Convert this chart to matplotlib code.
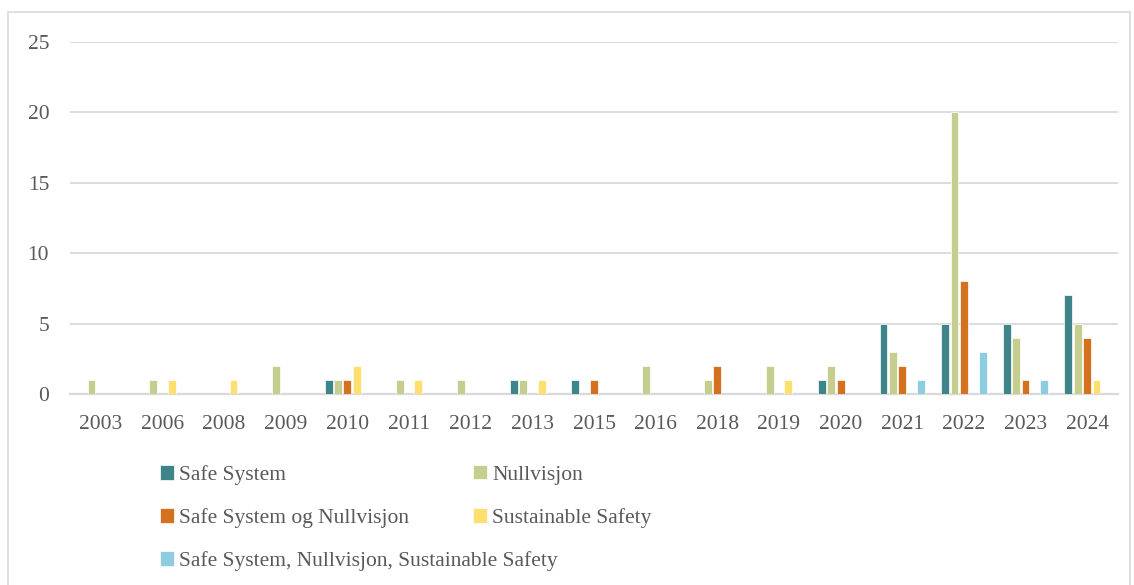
import numpy as np
from matplotlib import pyplot as plt
from matplotlib.patches import Rectangle

years = ["2003", "2006", "2008", "2009", "2010", "2011", "2012", "2013", "2015",
         "2016", "2018", "2019", "2020", "2021", "2022", "2023", "2024"]

safe_system = [0, 0, 0, 0, 1, 0, 0, 1, 1, 0, 0, 0, 1, 5, 5, 5, 7]
nullvisjon = [1, 1, 0, 2, 1, 1, 1, 1, 0, 2, 1, 2, 2, 3, 20, 4, 5]
ss_og_null = [0, 0, 0, 0, 1, 0, 0, 0, 1, 0, 2, 0, 1, 2, 8, 1, 4]
sustainable = [0, 1, 1, 0, 2, 1, 0, 1, 0, 0, 0, 1, 0, 0, 0, 0, 1]
all_three = [0, 0, 0, 0, 0, 0, 0, 0, 0, 0, 0, 0, 0, 1, 3, 1, 0]

series = [
    ("Safe System", safe_system, "#3F8489"),
    ("Nullvisjon", nullvisjon, "#C6CE8F"),
    ("Safe System og Nullvisjon", ss_og_null, "#D4711E"),
    ("Sustainable Safety", sustainable, "#FFE06F"),
    ("Safe System, Nullvisjon, Sustainable Safety", all_three, "#8ECDDF"),
]

plt.rcParams['font.family'] = ['Liberation Serif', 'DejaVu Serif']
grey = "#595959"

fig = plt.figure(figsize=(11.34, 5.85), dpi=100)
ax = fig.add_axes([70 / 1134, 1 - 394 / 585, 1048 / 1134, 352 / 585])

x = np.arange(len(years))
step = 0.152
width = 0.128
handles = []
for i, (name, vals, col) in enumerate(series):
    b = ax.bar(x + (i - 2) * step, vals, width, color=col, edgecolor="white",
               linewidth=0.5, label=name, zorder=3)
    handles.append(b)

ax.set_xlim(-0.5, len(years) - 0.5)
ax.set_ylim(0, 25)
ax.set_yticks(range(0, 26, 5))
ax.set_xticks(x)
ax.set_xticklabels(years)
ax.yaxis.grid(True, color="#D9D9D9", linewidth=1.3, zorder=0)
ax.set_axisbelow(True)
for s in ["top", "right", "left"]:
    ax.spines[s].set_visible(False)
ax.spines["bottom"].set_color("#D9D9D9")
ax.spines["bottom"].set_linewidth(1.6)
ax.tick_params(axis="both", length=0, labelsize=15.5, colors=grey)
ax.tick_params(axis="y", pad=15)
ax.tick_params(axis="x", pad=15)

# outer frame
fig.patches.append(Rectangle((8 / 1134, -0.1), 1122 / 1134, 1.1 - 12 / 585,
                             transform=fig.transFigure, fill=False,
                             edgecolor="#D9D9D9", linewidth=1.2))

leg_kw = dict(frameon=False, fontsize=15.5, handlelength=0.65, handleheight=0.65,
              handletextpad=0.25, labelspacing=1.08, borderpad=0, borderaxespad=0,
              labelcolor=grey, loc="upper left")
fig.legend([handles[0], handles[2], handles[4]],
           [series[0][0], series[2][0], series[4][0]],
           bbox_to_anchor=(160 / 1134, 1 - 465 / 585), **leg_kw)
fig.legend([handles[1], handles[3]], [series[1][0], series[3][0]],
           bbox_to_anchor=(473 / 1134, 1 - 465 / 585), **leg_kw)

fig.savefig("out.png", dpi=100)
